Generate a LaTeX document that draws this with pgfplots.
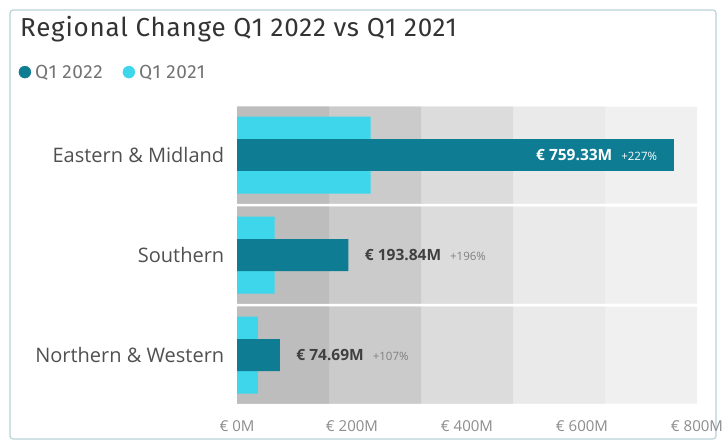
\documentclass[border=0pt]{standalone}
\usepackage{fontspec}
\setmainfont{Open Sans}
\newfontfamily\titlefont[LetterSpace=3]{Fira Sans}
\newfontfamily\legfont[LetterSpace=3]{Fira Sans}
\usepackage{pgfplots}
\pgfplotsset{compat=1.18}
\definecolor{q22}{HTML}{0E7C93}
\definecolor{q21}{HTML}{3ED6EA}
\definecolor{b1}{HTML}{BDBDBD}
\definecolor{b2}{HTML}{CBCBCB}
\definecolor{b3}{HTML}{DCDCDC}
\definecolor{b4}{HTML}{EAEAEA}
\definecolor{b5}{HTML}{F0F0F0}
\definecolor{cardframe}{HTML}{B9D3D8}
\definecolor{txt}{HTML}{505050}

\begin{document}
\begin{tikzpicture}[x=1pt,y=1pt]
\useasboundingbox (0,0) rectangle (725,445);
\draw[cardframe, line width=1.2pt, rounded corners=3pt] (10,6) rectangle (716,435);
\node[anchor=base west, font=\titlefont\fontsize{26}{30}\selectfont, text=black!80, inner sep=0]
  at (20,408) {Regional Change Q1 2022 vs Q1 2021};
\begin{axis}[
  at={(237pt,35pt)}, anchor=south west,
  scale only axis, width=460pt, height=310pt,
  xmin=0, xmax=800, ymin=-0.55, ymax=2.55, y dir=reverse,
  axis line style={draw=none}, major tick style={draw=none},
  xtick={0,200,...,800},
  xticklabels={€ 0M, € 200M, € 400M, € 600M, € 800M},
  xticklabel style={font=\fontsize{15}{17}\selectfont, text=black!45, yshift=-7pt},
  ytick={0,1,2},
  yticklabels={Eastern \& Midland, Southern, Northern \& Western},
  yticklabel style={font=\fontsize{20}{22}\selectfont, text=txt, xshift=-5pt},
  xbar, bar shift=0pt,
  legend style={at={(-0.475,1.09)}, anchor=west, draw=none, fill=none,
    legend columns=2, font=\legfont\fontsize{19}{21}\selectfont, text=black!55,
    inner sep=0pt,
    /tikz/every odd column/.append style={column sep=2pt},
    /tikz/every even column/.append style={column sep=18pt}},
  legend image code/.code={\fill[#1] (6pt,0pt) circle (6pt);},
]
% background bands
\addplot[fill=b5, draw=none, bar width=0.97, forget plot] coordinates {(800,0) (800,1) (800,2)};
\addplot[fill=b4, draw=none, bar width=0.97, forget plot] coordinates {(640,0) (640,1) (640,2)};
\addplot[fill=b3, draw=none, bar width=0.97, forget plot] coordinates {(480,0) (480,1) (480,2)};
\addplot[fill=b2, draw=none, bar width=0.97, forget plot] coordinates {(320,0) (320,1) (320,2)};
\addplot[fill=b1, draw=none, bar width=0.97, forget plot] coordinates {(160,0) (160,1) (160,2)};
% Q1 2021
\addplot[fill=q21, draw=none, bar width=0.77, forget plot] coordinates {(232.2,0) (65.5,1) (36.1,2)};
% Q1 2022, label inside
\addplot[fill=q22, draw=none, bar width=0.32, forget plot,
  nodes near coords, point meta=explicit symbolic,
  every node near coord/.append style={anchor=east, xshift=-13pt, text=white,
    font=\fontsize{15.5}{17}\selectfont}]
  coordinates {(759.33,0) [{\textbf{€ 759.33M}\hspace{9pt}{\fontsize{11.5}{13}\selectfont +227\%}}]};
% Q1 2022, label outside
\addplot[fill=q22, draw=none, bar width=0.32, forget plot,
  nodes near coords, point meta=explicit symbolic,
  every node near coord/.append style={anchor=west, xshift=13pt, text=black!75,
    font=\fontsize{15.5}{17}\selectfont}]
  coordinates {(193.84,1) [{\textbf{€ 193.84M}\hspace{9pt}{\fontsize{11.5}{13}\selectfont\color{black!50}+196\%}}]
               (74.69,2) [{\textbf{€ 74.69M}\hspace{9pt}{\fontsize{11.5}{13}\selectfont\color{black!50}+107\%}}]};
\addlegendimage{q22}
\addlegendentry{Q1 2022}
\addlegendimage{q21}
\addlegendentry{Q1 2021}
\end{axis}
\end{tikzpicture}
\end{document}
